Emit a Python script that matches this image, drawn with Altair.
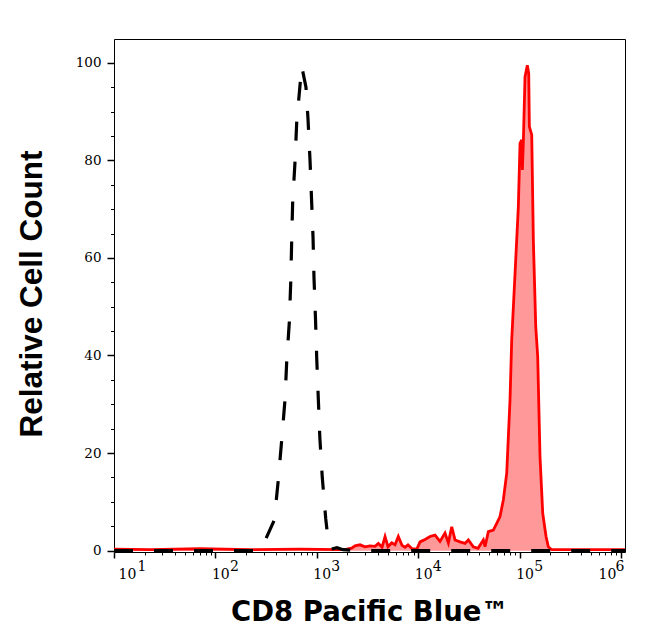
import altair as alt
import pandas as pd

# Isotype control (black dashed) - fluorescence value, relative count
black_x = [10, 275.4, 315.5, 381, 416.9, 450.8, 485.3, 504.7, 535.8, 553.4, 564.9,
           578.1, 609.5, 633.9, 666.8, 709.6, 781.6, 818.5, 857.0, 887.2, 918.3,
           937.6, 970.5, 997.7, 1035, 1072, 1132, 1225, 1288, 1380, 1581, 1811,
           2667, 1094000]
black_y = [0, 0, 2.5, 6.3, 14.5, 22.7, 30.9, 38.7, 46.9, 55.1, 63.3,
           71.5, 79.7, 87.9, 93.0, 99.3, 95.0, 88.5, 80.0, 72.0, 64.0,
           56.0, 47.5, 39.5, 31.0, 23.0, 15.0, 6.5, 2.5, 0.3, 0.6, 0.2,
           0, 0]

# CD8 stained sample (red filled)
red_x = [10, 22.6, 70.5, 219, 682, 1694, 1972, 2208, 2381, 2667, 2987, 3347, 3750,
         4044, 4396, 4709, 5039, 5479, 5907, 6364, 6918, 7413, 7925, 8690, 9666,
         10420, 11670, 13070, 14640, 16400, 18370, 19820, 21400, 23070, 25840,
         28950, 31200, 34930, 38870, 43870, 45590, 49130, 55050, 59450, 64070,
         69060, 74600, 80390, 83550, 90100, 97120, 100900, 104900, 106400, 108700,
         113000, 119100, 122900, 124700, 131600, 136500, 144200, 150700, 158800,
         168900, 182100, 191900, 207400, 394500, 1094000]
red_y = [0.3, 0.2, 0.4, 0.2, 0.3, 0.2, 0.3, 0.5, 1.0, 1.2, 0.8, 1.0, 0.9,
         1.5, 0.7, 2.9, 0.8, 1.6, 1.2, 2.9, 1.1, 0.7, 1.2, 0.4, 0.3,
         1.8, 2.3, 2.9, 3.2, 1.9, 3.6, 1.6, 4.9, 2.2, 1.8,
         1.5, 2.2, 0.8, 0.5, 2.2, 0.8, 3.9, 4.2, 5.6, 7.0,
         10.4, 15.9, 30.9, 43.2, 56.8, 70.5, 83.5, 84.2, 78.0, 83.5,
         97.1, 99.5, 97.8, 86.9, 85.2, 63.7, 45.9, 39.8, 19.3,
         7.7, 2.9, 0.8, 0.2, 0.2, 0.2]

x_major = [10, 100, 1000, 10000, 100000, 1000000]
x_minor = [k * 10 ** d for d in range(1, 6) for k in range(2, 10)]
y_major = [0, 20, 40, 60, 80, 100]
y_minor = [5, 10, 15, 25, 30, 35, 45, 50, 55, 65, 70, 75, 85, 90, 95]

black_df = pd.DataFrame({"x": black_x, "y": black_y})
red_df = pd.DataFrame({"x": red_x, "y": red_y})

x_scale = alt.Scale(type="log", domain=[10, 1094000], nice=False)
y_scale = alt.Scale(domain=[-0.27, 104.86], nice=False, zero=False)

LABEL_FONT = "DejaVu Serif"
X_MAJOR_TEST = "indexof([10, 100, 1000, 10000, 100000, 1000000], datum.value) >= 0"
Y_MAJOR_TEST = "datum.value % 20 == 0"

x_axis_main = alt.Axis(
    values=sorted(x_major + x_minor),
    labelExpr="(" + X_MAJOR_TEST + ") ? '10' : ''",
    labelFont=LABEL_FONT, labelFontSize=14,
    labelColor="black", labelAlign="left", labelFlush=False, labelOverlap=False,
    labelOffset={"condition": [{"test": "datum.value <= 10", "value": 4},
                               {"test": "datum.value >= 1000000", "value": -23}],
                 "value": -4},
    labelPadding=9,
    tickSize={"condition": {"test": X_MAJOR_TEST, "value": 6}, "value": 3},
    tickWidth={"condition": {"test": X_MAJOR_TEST, "value": 1.5}, "value": 1},
    tickColor="black",
    domain=False, grid=False, orient="bottom",
    title="CD8 Pacific Blue\u2122", titleFont="DejaVu Sans", titleFontSize=27.5,
    titleFontWeight="bold", titleColor="black", titleBaseline="alphabetic",
    titleY=68, titleX=255.5, titleAlign="center",
)
x_axis_sup = alt.Axis(
    values=x_major, labelExpr="'' + round(log(datum.value) / LN10)",
    labelFont=LABEL_FONT, labelFontSize=14, labelColor="black",
    labelAlign="left", labelFlush=False, labelOverlap=False,
    labelOffset={"condition": [{"test": "datum.value <= 10", "value": 23},
                               {"test": "datum.value >= 1000000", "value": -6}],
                 "value": 14},
    ticks=True, tickSize=0, tickOpacity=0, labelPadding=7,
    domain=False, grid=False, orient="bottom", title=None,
)
y_axis_main = alt.Axis(
    values=sorted(y_major + y_minor),
    labelExpr="(" + Y_MAJOR_TEST + ") ? datum.label : ''",
    labelFont=LABEL_FONT, labelFontSize=13.5, labelColor="black",
    labelPadding=6, labelOverlap=False, labelFlush=False,
    tickSize={"condition": {"test": Y_MAJOR_TEST, "value": 7}, "value": 3.5},
    tickWidth={"condition": {"test": Y_MAJOR_TEST, "value": 1.5}, "value": 1},
    tickColor="black",
    domain=False, grid=False, orient="left",
    title="Relative Cell Count", titleFont="Liberation Sans", titleFontSize=31.5,
    titleFontWeight="bold", titleColor="black", titleBaseline="alphabetic",
    titleAngle=270, titleX=-73, titleY=254.5, titleAlign="center",
)

area = alt.Chart(red_df).mark_area(color="#FF9999", opacity=1, clip=True).encode(
    x=alt.X("x:Q", scale=x_scale, axis=x_axis_main),
    y=alt.Y("y:Q", scale=y_scale, axis=y_axis_main, stack=None),
    y2=alt.datum(0),
)
red_line = alt.Chart(red_df).mark_line(color="#FF0000", strokeWidth=2.8, clip=True).encode(
    x=alt.X("x:Q", scale=x_scale, axis=None),
    y=alt.Y("y:Q", scale=y_scale, axis=None),
)
black_line = alt.Chart(black_df).mark_line(
    color="black", strokeWidth=3.2, strokeDash=[19, 21], clip=True
).encode(
    x=alt.X("x:Q", scale=x_scale, axis=x_axis_sup),
    y=alt.Y("y:Q", scale=y_scale, axis=None),
)

chart = (
    alt.layer(area, red_line, black_line)
    .resolve_axis(x="independent", y="independent")
    .properties(
        width=511, height=513,
        autosize=alt.AutoSizeParams(type="none"),
        padding={"left": 106, "top": 31, "right": 10, "bottom": 80},
        background="white",
    )
    .configure_view(stroke="black", strokeWidth=1)
)

chart.save("out.html", embed_options={"renderer": "svg", "actions": False})
